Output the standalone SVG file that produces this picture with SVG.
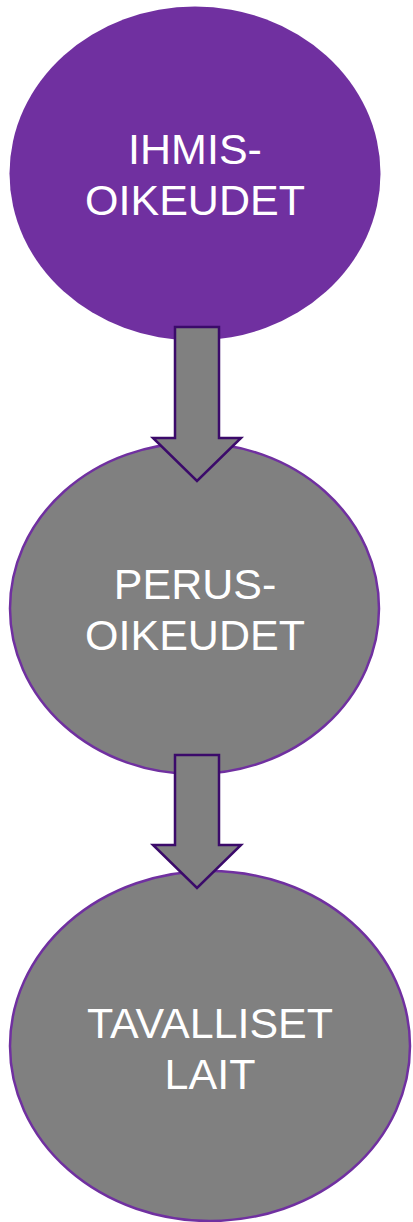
<svg xmlns="http://www.w3.org/2000/svg" width="413" height="1222" viewBox="0 0 413 1222">
<style>
.node{fill:#808080;stroke:#7030A0;stroke-width:2.5}
.arrow{fill:#808080;stroke:#3B0A6A;stroke-width:2.5;stroke-linejoin:miter}
.lbl{font-family:"Liberation Sans",Arial,sans-serif;font-size:43px;fill:#FFFFFF;text-anchor:middle}
</style>
<rect width="413" height="1222" fill="#FFFFFF"/>
<g id="node-ihmisoikeudet">
<ellipse cx="195" cy="173.5" rx="185.5" ry="167" fill="#7030A0"/>
<text class="lbl" x="195" y="164">IHMIS-</text>
<text class="lbl" x="195" y="215">OIKEUDET</text>
</g>
<g id="node-perusoikeudet">
<ellipse class="node" cx="194.5" cy="608.5" rx="184.5" ry="165.5"/>
<text class="lbl" x="195" y="599">PERUS-</text>
<text class="lbl" x="195" y="650">OIKEUDET</text>
</g>
<g id="node-tavalliset">
<ellipse class="node" cx="210" cy="1046" rx="200" ry="175"/>
<text class="lbl" x="210" y="1038">TAVALLISET</text>
<text class="lbl" x="210" y="1089">LAIT</text>
</g>
<g id="connectors">
<polygon class="arrow" points="175,327 219,327 219,438 241,438 197,481 153,438 175,438"/>
<polygon class="arrow" points="175,755 219,755 219,845 241,845 197,888 153,845 175,845"/>
</g>
</svg>
